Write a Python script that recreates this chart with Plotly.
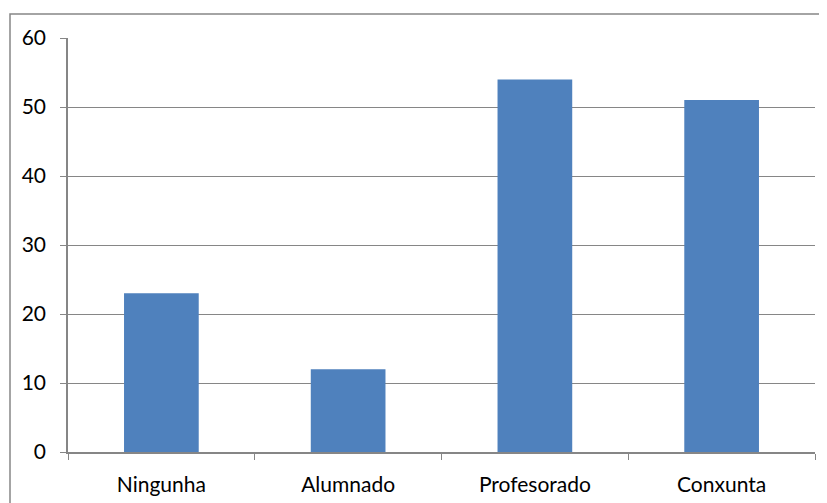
import plotly.graph_objects as go

categories = ["Ningunha", "Alumnado", "Profesorado", "Conxunta"]
values = [23, 12, 54, 51]
y_ticks = [0, 10, 20, 30, 40, 50, 60]

grey = "#868686"
fig = go.Figure(go.Bar(x=categories, y=values, marker_color="#4F81BD",
                       marker_line_width=0, width=0.4))

# page body adds an 8px offset, so margins are compensated
L, T, R, B = 60, 30, 20, 59
W, H = 827, 503
pw, ph = W - L - R, H - T - B

fig.update_layout(
    width=W, height=H,
    margin=dict(l=L, r=R, t=T, b=B),
    paper_bgcolor="white", plot_bgcolor="white",
    font=dict(family="Lato, Carlito, Calibri, sans-serif", size=21, color="black"),
    showlegend=False,
)
fig.update_yaxes(range=[0, 60], tickvals=y_ticks, showgrid=True, gridcolor=grey, gridwidth=1,
                 showline=True, linecolor=grey, linewidth=1.5, ticks="outside", ticklen=6,
                 tickcolor=grey, ticklabelstandoff=10, zeroline=False, automargin=False)
fig.update_xaxes(showline=True, linecolor=grey, linewidth=1.5, ticks="outside", ticklen=6,
                 tickcolor=grey, tickson="boundaries", ticklabelstandoff=13, automargin=False)
fig.add_shape(type="rect", xref="paper", yref="paper",
              x0=(2 - L) / pw, x1=1.2, y0=-0.4, y1=(H - B - 6) / ph,
              line=dict(color=grey, width=1.5), fillcolor="rgba(0,0,0,0)", layer="below")
fig.write_html("out.html")
